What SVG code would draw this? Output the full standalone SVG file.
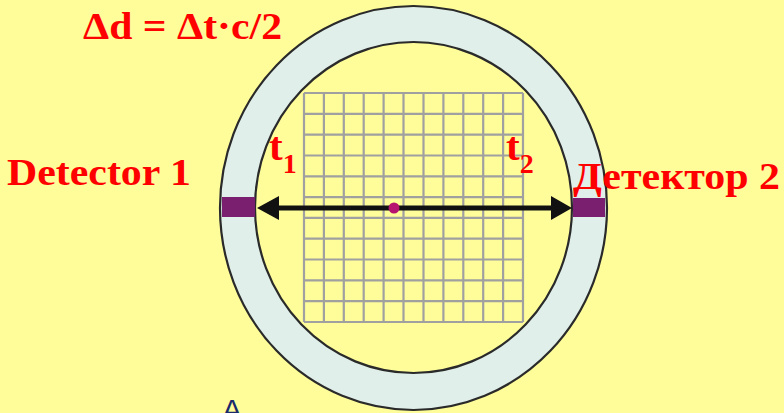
<svg xmlns="http://www.w3.org/2000/svg" width="784" height="413" viewBox="0 0 784 413">
<defs>
<style>
.lbl{font-family:"Liberation Serif","Times New Roman",serif;font-weight:bold;fill:#ff0000;}
.ring{stroke:#2a2a2a;stroke-width:2.2;}
.grid{stroke:#a0a0a0;stroke-width:2.2;fill:none;}
.det{fill:#7a1f70;}
</style>
</defs>
<rect x="0" y="0" width="784" height="413" fill="#fefd9a"/>
<g id="ring">
<ellipse class="ring" cx="413.5" cy="208" rx="193.5" ry="202" fill="#e0efe9"/>
<ellipse class="ring" cx="413.5" cy="207.5" rx="158.5" ry="165.5" fill="#fefd9a"/>
</g>
<g id="grid">
<path class="grid" d="M304 93V322M323.9 93V322M343.8 93V322M363.7 93V322M383.6 93V322M403.5 93V322M423.5 93V322M443.4 93V322M463.3 93V322M483.2 93V322M503.1 93V322M523 93V322M304 93H523M304 113.8H523M304 134.6H523M304 155.5H523M304 176.3H523M304 197.1H523M304 217.9H523M304 238.7H523M304 259.5H523M304 280.4H523M304 301.2H523M304 322H523"/>
</g>
<g id="detector1">
<rect class="det" x="222" y="197" width="33" height="20"/>
<text class="lbl" x="7" y="185" font-size="38" textLength="184" lengthAdjust="spacingAndGlyphs">Detector 1</text>
</g>
<g id="detector2">
<rect class="det" x="573" y="198" width="32" height="19"/>
<text class="lbl" x="573" y="189" font-size="37" textLength="207" lengthAdjust="spacingAndGlyphs">Детектор 2</text>
</g>
<g id="connectors">
<line x1="275" y1="208" x2="555" y2="208" stroke="#111" stroke-width="5"/>
<polygon points="257,208 279,196 279,220" fill="#111"/>
<polygon points="572,208 551,196 551,220" fill="#111"/>
</g>
<g id="source">
<circle cx="394" cy="208" r="5.5" fill="#b5136f"/>
</g>
<g id="labels">
<text class="lbl" x="83" y="39" font-size="37" textLength="199" lengthAdjust="spacingAndGlyphs">Δd = Δt·c/2</text>
<text class="lbl" x="269" y="160" font-size="41">t<tspan font-size="28" dy="13">1</tspan></text>
<text class="lbl" x="506" y="160" font-size="41">t<tspan font-size="28" dy="13">2</tspan></text>
<text x="222" y="420" font-family="Liberation Sans, Arial, sans-serif" font-size="30" fill="#1a2a6a">A</text>
</g>
</svg>
